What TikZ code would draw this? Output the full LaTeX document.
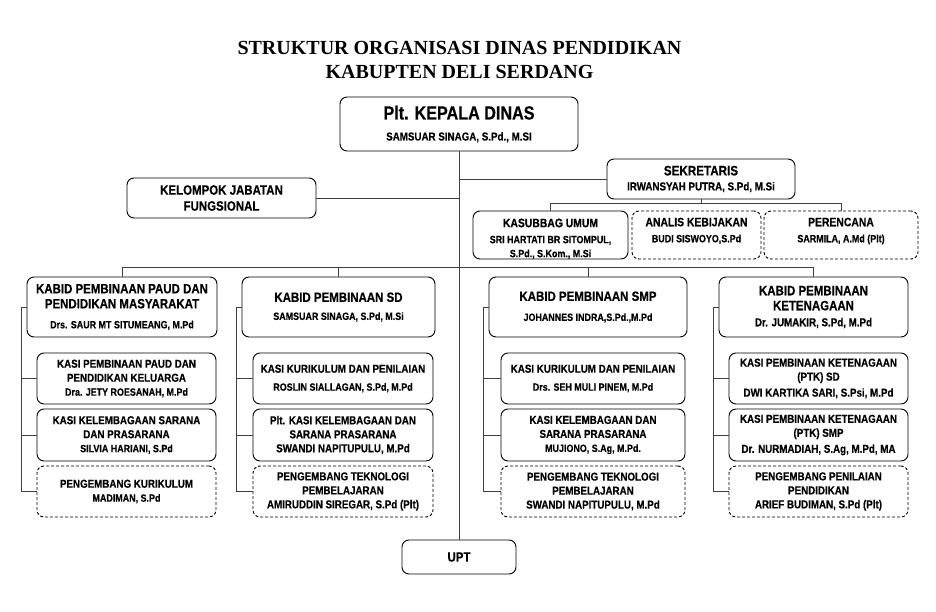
\documentclass[tikz,border=0pt]{standalone}
\usepackage{fontspec}
\setmainfont{Liberation Serif}
\newfontfamily\narrowsans[FakeStretch=0.85, BoldFeatures={FakeBold=0.4}]{Liberation Sans}
\newcommand{\fsz}[2]{\fontsize{#1}{#2}\selectfont}
\newcommand{\nama}{\fsz{10.5}{12}}
\newcommand{\namabesar}{\fsz{11.5}{13}}
\tikzset{
  unit/.style={draw, line width=0.9pt, rounded corners=7pt, align=center,
    inner sep=0pt, font=\narrowsans\bfseries\fsz{11.5}{14}},
  unitdash/.style={unit, dash pattern=on 3pt off 2pt},
  staf/.style={font=\narrowsans\bfseries\fsz{12.2}{14}},
  kabid/.style={unit, minimum height=60pt, font=\narrowsans\bfseries\fsz{13.5}{15}},
  link/.style={draw=black!75, line width=0.7pt},
}
\begin{document}
\begin{tikzpicture}[x=1pt, y=-1pt]
  \useasboundingbox (0,0) rectangle (936,612);

  % Judul
  \node[font=\bfseries\fsz{20}{24}, align=center] (judul) at (459.5,60)
    {STRUKTUR ORGANISASI DINAS PENDIDIKAN\\KABUPTEN DELI SERDANG};

  % Kepala dinas
  \node[unit, minimum width=238pt, minimum height=54pt] (kepala) at (459,124)
    {\fsz{19}{22}Plt. KEPALA DINAS\\[7pt]\namabesar SAMSUAR SINAGA, S.Pd., M.SI};

  % Kelompok jabatan fungsional
  \node[unit, minimum width=189pt, minimum height=40pt, font=\narrowsans\bfseries\fsz{13.5}{16}] (kelompok) at (221.5,198)
    {KELOMPOK JABATAN\\FUNGSIONAL};

  % Sekretariat
  \node[unit, minimum width=188pt, minimum height=40pt, font=\narrowsans\bfseries\fsz{13.7}{15}] (sekretaris) at (701,179)
    {SEKRETARIS\\\namabesar IRWANSYAH PUTRA, S.Pd, M.Si};
  \node[unit, staf, minimum width=155pt, minimum height=48pt] (kasubbag) at (550.5,235)
    {\mbox{}\\[2pt]KASUBBAG UMUM\\[2pt]\nama SRI HARTATI BR SITOMPUL,\\\nama S.Pd., S.Kom., M.Si};
  \node[unitdash, staf, minimum width=129pt, minimum height=48pt] (analis) at (696.5,235)
    {ANALIS KEBIJAKAN\\[2pt]\nama BUDI SISWOYO,S.Pd\\[-4pt]\mbox{}};
  \node[unitdash, staf, minimum width=154pt, minimum height=48pt] (perencana) at (841,235)
    {PERENCANA\\[2pt]\nama SARMILA, A.Md (Plt)\\[-4pt]\mbox{}};

  % Bidang
  \node[kabid, minimum width=190pt] (kbpaud) at (122,307)
    {KABID PEMBINAAN PAUD DAN\\PENDIDIKAN MASYARAKAT\\[5pt]\nama Drs. SAUR MT SITUMEANG, M.Pd};
  \node[kabid, minimum width=193pt] (kbsd) at (338.5,307)
    {KABID PEMBINAAN SD\\[3pt]\nama SAMSUAR SINAGA, S.Pd, M.Si};
  \node[kabid, minimum width=198pt] (kbsmp) at (588,307)
    {KABID PEMBINAAN SMP\\[5pt]\nama JOHANNES INDRA,S.Pd.,M.Pd};
  \node[kabid, minimum width=189pt] (kbket) at (813.5,307)
    {KABID PEMBINAAN\\KETENAGAAN\\[1pt]\namabesar Dr. JUMAKIR, S.Pd, M.Pd};

  % Seksi bidang PAUD
  \node[unit, minimum width=179pt, minimum height=51pt] (kspaud1) at (126.5,378.5)
    {KASI PEMBINAAN PAUD DAN\\PENDIDIKAN KELUARGA\\\nama Dra. JETY ROESANAH, M.Pd};
  \node[unit, minimum width=179pt, minimum height=52pt] (kspaud2) at (126.5,435)
    {KASI KELEMBAGAAN SARANA\\DAN PRASARANA\\\nama SILVIA HARIANI, S.Pd};
  \node[unitdash, minimum width=179pt, minimum height=51pt] (kspaud3) at (126.5,491.5)
    {PENGEMBANG KURIKULUM\\\nama MADIMAN, S.Pd};

  % Seksi bidang SD
  \node[unit, minimum width=180pt, minimum height=51pt] (kssd1) at (343,378.5)
    {KASI KURIKULUM DAN PENILAIAN\\[4pt]\nama ROSLIN SIALLAGAN, S.Pd, M.Pd};
  \node[unit, minimum width=180pt, minimum height=52pt] (kssd2) at (343,435)
    {Plt. KASI KELEMBAGAAN DAN\\SARANA PRASARANA\\\namabesar SWANDI NAPITUPULU, M.Pd};
  \node[unitdash, minimum width=180pt, minimum height=51pt] (kssd3) at (343,491.5)
    {PENGEMBANG TEKNOLOGI\\PEMBELAJARAN\\\namabesar AMIRUDDIN SIREGAR, S.Pd (Plt)};

  % Seksi bidang SMP
  \node[unit, minimum width=184pt, minimum height=51pt] (kssmp1) at (593,378.5)
    {KASI KURIKULUM DAN PENILAIAN\\[4pt]\nama Drs. SEH MULI PINEM, M.Pd};
  \node[unit, minimum width=184pt, minimum height=52pt] (kssmp2) at (593,435)
    {KASI KELEMBAGAAN DAN\\SARANA PRASARANA\\\nama MUJIONO, S.Ag, M.Pd.};
  \node[unitdash, minimum width=184pt, minimum height=51pt] (kssmp3) at (593,491.5)
    {PENGEMBANG TEKNOLOGI\\PEMBELAJARAN\\\namabesar SWANDI NAPITUPULU, M.Pd};

  % Seksi bidang ketenagaan
  \node[unit, minimum width=179pt, minimum height=51pt] (ksket1) at (818.5,378.5)
    {KASI PEMBINAAN KETENAGAAN\\(PTK) SD\\[2pt]\namabesar DWI KARTIKA SARI, S.Psi, M.Pd};
  \node[unit, minimum width=179pt, minimum height=52pt] (ksket2) at (818.5,435)
    {KASI PEMBINAAN KETENAGAAN\\(PTK) SMP\\[2pt]\namabesar Dr. NURMADIAH, S.Ag, M.Pd, MA};
  \node[unitdash, minimum width=179pt, minimum height=51pt] (ksket3) at (818.5,491.5)
    {PENGEMBANG PENILAIAN\\PENDIDIKAN\\\namabesar ARIEF BUDIMAN, S.Pd (Plt)};

  % UPT
  \node[unit, minimum width=114pt, minimum height=34pt, font=\narrowsans\bfseries\fsz{13.5}{16}] (upt) at (459,557) {UPT};

  % Garis komando
  \draw[link] (kepala.south) -- (upt.north);
  \draw[link] (kelompok.east) -- (kelompok.east -| kepala.south);
  \draw[link] (sekretaris.west) -- (sekretaris.west -| kepala.south);
  \draw[link] (sekretaris.south) -- ++(0,4) coordinate (sekbus);
  \draw[link] (kasubbag.north) |- (sekbus) -| (perencana.north);

  % Garis bidang
  \draw[link] (kbpaud.north) -- ++(0,-9) -| (kbket.north);
  \foreach \b in {kbsd,kbsmp} \draw[link] (\b.north) -- ++(0,-9);

  % Garis seksi
  \foreach \k in {paud,sd,smp,ket} {
    \draw[link] (kb\k.west) -- ++(-5,0) |- (ks\k3.west);
    \draw[link] (kb\k.west) ++(-5,0) |- (ks\k1.west);
    \draw[link] (kb\k.west) ++(-5,0) |- (ks\k2.west);
  }
\end{tikzpicture}
\end{document}
